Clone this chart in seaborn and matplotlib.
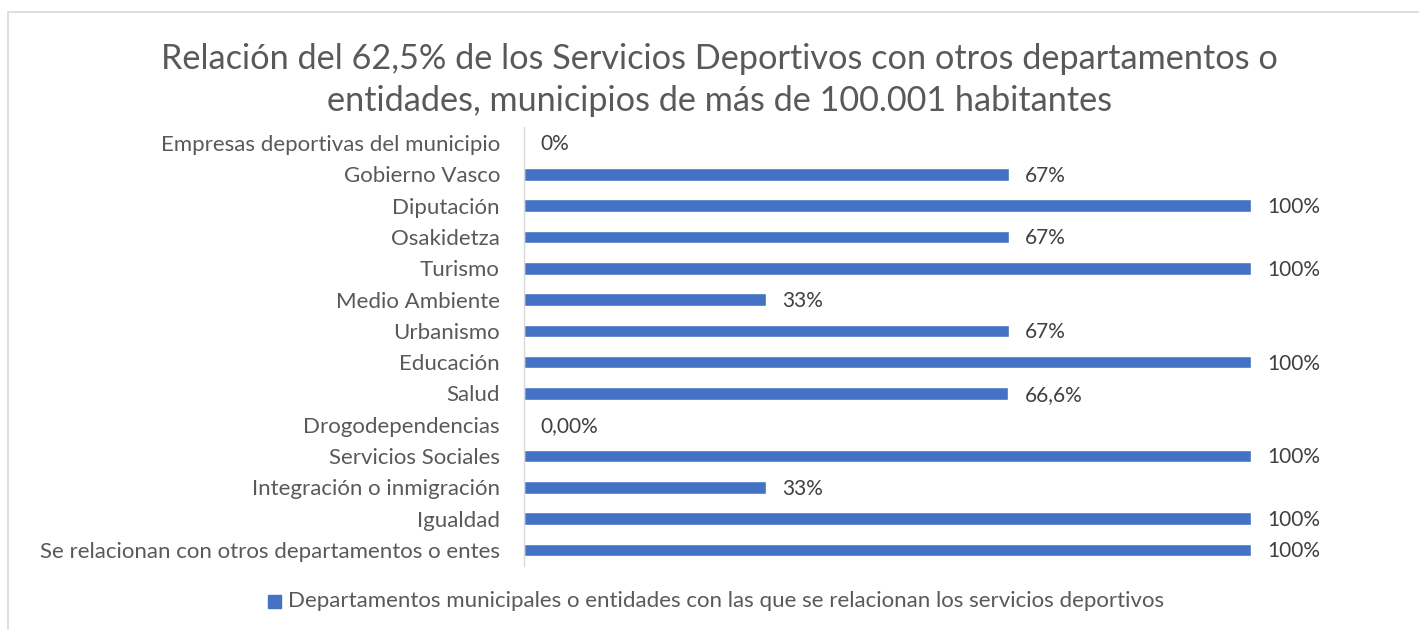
import matplotlib
matplotlib.use("Agg")
import matplotlib.pyplot as plt
import seaborn as sns
import pandas as pd

categories = [
    "Empresas deportivas del municipio",
    "Gobierno Vasco",
    "Diputación",
    "Osakidetza",
    "Turismo",
    "Medio Ambiente",
    "Urbanismo",
    "Educación",
    "Salud",
    "Drogodependencias",
    "Servicios Sociales",
    "Integración o inmigración",
    "Igualdad",
    "Se relacionan con otros departamentos o entes",
]
values = [0, 66.7, 100, 66.7, 100, 33.3, 66.7, 100, 66.6, 0, 100, 33.3, 100, 100]
value_labels = ["0%", "67%", "100%", "67%", "100%", "33%", "67%", "100%",
                "66,6%", "0,00%", "100%", "33%", "100%", "100%"]
series_name = "Departamentos municipales o entidades con las que se relacionan los servicios deportivos"
title = ("Relación del 62,5% de los Servicios Deportivos con otros departamentos o\n"
         "entidades, municipios de más de 100.001 habitantes")

df = pd.DataFrame({"categoria": categories, "valor": values})

sns.set_theme(style="white")
plt.rcParams["font.family"] = ["Lato", "DejaVu Sans"]

gray = "#595959"
blue = "#4472C4"

fig = plt.figure(figsize=(14.19, 6.30), dpi=100)
ax = fig.add_axes([0.369, 0.1022, 0.5124, 0.6956])

sns.barplot(data=df, x="valor", y="categoria", orient="h", color=blue,
            width=0.4, saturation=1, ax=ax)

ax.set_xlim(0, 100)
ax.set_xlabel("")
ax.set_ylabel("")
ax.set_xticks([])
ax.tick_params(axis="y", length=0, pad=17, labelsize=16, labelcolor=gray)
for s in ["top", "right", "bottom"]:
    ax.spines[s].set_visible(False)
ax.spines["left"].set_color("#D9D9D9")
ax.spines["left"].set_linewidth(1)

# data labels right of each bar
for i, (v, lab) in enumerate(zip(values, value_labels)):
    ax.annotate(lab, (v, i), xytext=(12, -1), textcoords="offset points",
                va="center", ha="left", fontsize=15, color="#404040")

fig.text(0.507, 0.873, title, ha="center", va="center", fontsize=24.7,
         color=gray, linespacing=1.4)

# legend entry
fig.patches.append(matplotlib.patches.Rectangle((268 / 1419, 1 - 608 / 630), 13 / 1419, 13 / 630,
                                                transform=fig.transFigure, color=blue))
fig.text(288 / 1419, 1 - 601 / 630, series_name, ha="left", va="center",
         fontsize=16, color=gray)

# chart area border (top and left visible)
fig.add_artist(matplotlib.lines.Line2D([8 / 1419, 8 / 1419], [0, 1 - 12 / 630],
                                       transform=fig.transFigure, color="#D9D9D9", lw=1.2))
fig.add_artist(matplotlib.lines.Line2D([8 / 1419, 1], [1 - 12 / 630, 1 - 12 / 630],
                                       transform=fig.transFigure, color="#D9D9D9", lw=1.2))

fig.savefig("out.png", dpi=100, facecolor="white")
